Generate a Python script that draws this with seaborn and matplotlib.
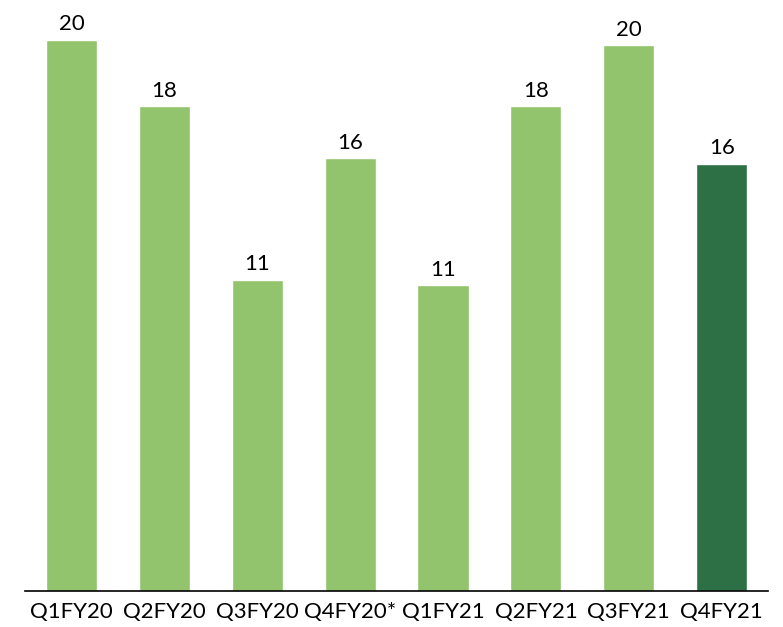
import pandas as pd
import matplotlib.pyplot as plt
import seaborn as sns

quarters = ['Q1FY20', 'Q2FY20', 'Q3FY20', 'Q4FY20*', 'Q1FY21', 'Q2FY21', 'Q3FY21', 'Q4FY21']
values = [20.0, 17.6, 11.3, 15.7, 11.1, 17.6, 19.8, 15.5]
bar_colors = ['#92C46E'] * 7 + ['#2E7046']

sns.set_style('white')
plt.rcParams['font.family'] = ['Lato', 'DejaVu Sans']

df = pd.DataFrame({'quarter': quarters, 'value': values})
fig = plt.figure(figsize=(7.83, 6.27), dpi=100)
ax = fig.add_axes([0.032, 0.0574, 0.949, 0.9426])
sns.barplot(x='quarter', y='value', hue='quarter', data=df, palette=bar_colors,
            width=0.55, legend=False, saturation=1, ax=ax)

for c in ax.containers:
    ax.bar_label(c, fmt='%.0f', padding=4, fontsize=16, color='black')

ax.set_xlim(-0.5, 7.5)
ax.set_ylim(0, 21.45)
ax.set_xlabel('')
ax.set_ylabel('')
ax.set_yticks([])
ax.tick_params(axis='x', length=0, pad=8, labelsize=16, labelcolor='black')
for s in ['top', 'right', 'left']:
    ax.spines[s].set_visible(False)
ax.spines['bottom'].set_color('black')
ax.spines['bottom'].set_linewidth(1.2)

fig.savefig('out.png', dpi=100)
